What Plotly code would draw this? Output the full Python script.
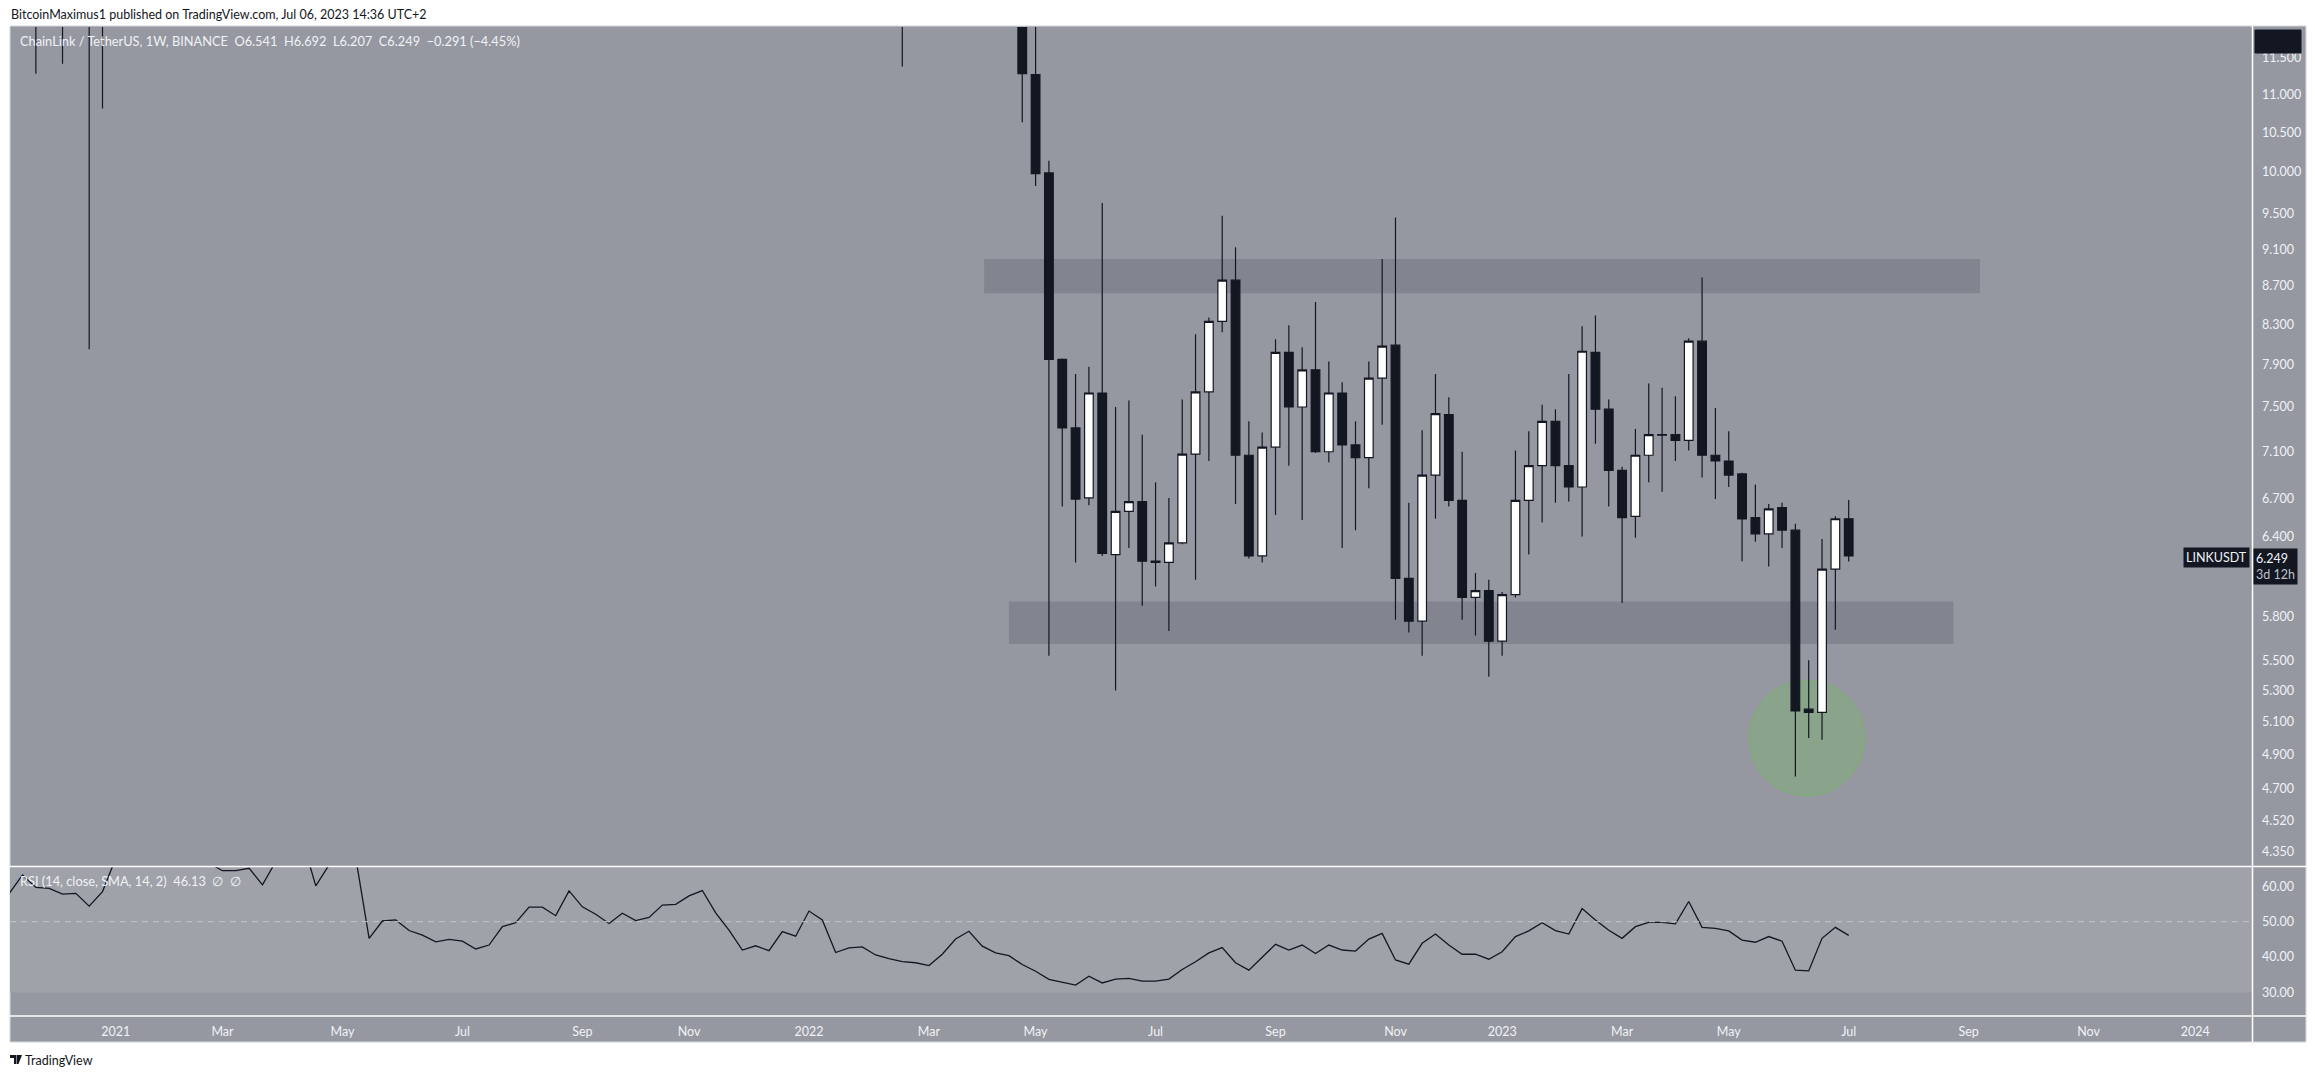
import math
import pandas as pd
import plotly.graph_objects as go

# ---------------- data ----------------
dates = pd.date_range("2020-11-09", periods=139, freq="7D")

open_ = [12.3, 12.6, 13.9, 13.2, 13.9, 12.6, 13.1, 12.3, 13.6, 19.6,
         21.0, 22.0, 21.5, 26.5, 29.0, 31.0, 24.8, 29.0, 29.4, 28.6,
         27.5, 31.8, 33.0, 40.0, 33.0, 40.0, 46.5, 37.4, 24.5, 29.0,
         25.9, 23.4, 20.9, 19.2, 19.5, 18.6, 16.1, 17.0, 21.3, 22.9,
         27.6, 27.9, 26.6, 33.3, 29.3, 27.6, 24.6, 26.8, 25.4, 26.5,
         30.0, 30.2, 33.7, 35.4, 28.0, 24.3, 20.5, 21.2, 20.0, 22.8,
         21.3, 26.3, 23.8, 16.5, 17.2, 17.5, 16.0, 14.4, 14.2, 14.0,
         13.6, 15.1, 16.9, 16.9, 14.6, 14.0, 13.70, 11.27, 9.99, 7.95,
         7.31, 6.71, 7.63, 6.26, 6.60, 6.68, 6.21, 6.20, 6.35, 7.08,
         7.64, 8.33, 8.76, 7.07, 6.25, 7.14, 8.02, 7.50, 7.85, 7.10,
         7.63, 7.16, 7.05, 7.77, 8.09, 6.08, 5.77, 6.90, 7.43, 6.69,
         5.94, 5.99, 5.63, 5.96, 6.69, 6.98, 7.37, 6.98, 6.80, 8.02,
         7.48, 6.94, 6.56, 7.07, 7.25, 7.25, 7.20, 8.13, 7.07, 7.02,
         6.91, 6.55, 6.42, 6.63, 6.45, 5.18, 5.16, 6.15, 6.541]

high = [13.6, 14.6, 15.4, 15.0, 14.0, 14.6, 13.4, 14.2, 22.0, 21.9,
        25.0, 24.0, 27.5, 32.0, 36.9, 31.6, 32.5, 32.8, 32.0, 30.0,
        32.7, 36.0, 44.3, 40.5, 41.0, 52.9, 51.8, 39.5, 33.7, 34.0,
        27.0, 28.0, 21.0, 21.8, 21.5, 19.5, 18.2, 22.9, 24.3, 29.0,
        30.0, 30.6, 35.2, 35.0, 31.5, 29.0, 29.0, 28.0, 28.0, 31.7,
        32.0, 35.0, 38.0, 36.0, 29.5, 28.0, 22.5, 21.5, 24.0, 24.8,
        28.9, 27.0, 24.0, 18.6, 18.8, 19.8, 16.3, 15.1, 16.2, 14.7,
        15.5, 17.5, 18.8, 17.2, 15.9, 15.6, 14.20, 12.10, 10.14, 7.96,
        7.81, 7.88, 9.63, 7.50, 7.56, 7.25, 6.84, 6.71, 7.57, 8.20,
        8.37, 9.48, 9.12, 7.37, 7.27, 8.15, 8.29, 8.07, 8.53, 7.93,
        7.73, 7.37, 7.93, 8.99, 9.46, 6.67, 7.29, 7.81, 7.59, 7.10,
        6.12, 6.07, 5.98, 7.11, 7.28, 7.52, 7.48, 7.81, 8.28, 8.39,
        7.57, 6.97, 7.30, 7.72, 7.68, 7.60, 8.16, 8.79, 7.49, 7.28,
        6.92, 6.82, 6.66, 6.67, 6.50, 5.50, 6.38, 6.56, 6.692]

low = [12.1, 12.3, 11.28, 12.5, 11.42, 12.2, 8.05, 10.81, 12.8, 16.0,
       19.0, 19.5, 20.9, 24.8, 26.0, 20.6, 24.5, 27.7, 27.0, 24.0,
       26.0, 30.0, 31.5, 27.0, 31.0, 38.0, 32.0, 15.0, 21.8, 24.7,
       20.1, 19.0, 15.0, 17.6, 17.3, 14.6, 13.5, 16.5, 19.2, 21.8,
       24.0, 25.0, 25.6, 23.5, 26.5, 20.9, 22.0, 24.5, 23.5, 25.5,
       27.0, 29.0, 30.0, 25.5, 23.0, 17.5, 18.0, 16.3, 19.7, 19.5,
       20.5, 22.8, 14.9, 14.4, 15.9, 15.8, 13.4, 11.38, 13.6, 12.3,
       12.9, 14.4, 16.1, 13.9, 13.6, 13.0, 10.63, 9.83, 5.53, 6.64,
       6.20, 6.65, 6.25, 5.30, 6.31, 5.88, 6.02, 5.70, 6.34, 6.07,
       7.02, 8.22, 6.66, 6.23, 6.20, 6.57, 6.98, 6.53, 7.09, 7.01,
       6.31, 6.45, 6.79, 7.34, 5.78, 5.69, 5.53, 6.54, 6.64, 5.78,
       5.67, 5.39, 5.53, 5.94, 6.26, 6.51, 6.67, 6.68, 6.40, 7.17,
       6.64, 5.90, 6.39, 6.84, 6.76, 7.02, 7.11, 6.88, 6.70, 6.80,
       6.21, 6.36, 6.17, 6.31, 4.77, 5.00, 4.99, 5.71, 6.207]

close = [12.6, 13.9, 13.2, 13.9, 12.6, 13.1, 12.3, 13.6, 19.6, 21.0,
         22.0, 21.5, 26.5, 29.0, 31.0, 24.8, 29.0, 29.4, 28.6, 27.5,
         31.8, 33.0, 40.0, 33.0, 40.0, 46.5, 37.4, 24.5, 29.0, 25.9,
         23.4, 20.9, 19.2, 19.5, 18.6, 16.1, 17.0, 21.3, 22.9, 27.6,
         27.9, 26.6, 33.3, 29.3, 27.6, 24.6, 26.8, 25.4, 26.5, 30.0,
         30.2, 33.7, 35.4, 28.0, 24.3, 20.5, 21.2, 20.0, 22.8, 21.3,
         26.3, 23.8, 16.5, 17.2, 17.5, 16.0, 14.4, 14.2, 14.0, 13.6,
         15.1, 16.9, 16.9, 14.6, 14.0, 13.7, 11.28, 9.98, 7.95, 7.31,
         6.70, 7.63, 6.27, 6.60, 6.68, 6.21, 6.20, 6.35, 7.08, 7.64,
         8.33, 8.76, 7.07, 6.25, 7.14, 8.02, 7.50, 7.85, 7.10, 7.63,
         7.16, 7.05, 7.77, 8.08, 6.08, 5.77, 6.90, 7.44, 6.69, 5.94,
         5.99, 5.63, 5.96, 6.69, 6.98, 7.37, 6.98, 6.80, 8.03, 7.48,
         6.94, 6.55, 7.07, 7.25, 7.245, 7.20, 8.13, 7.07, 7.02, 6.90,
         6.54, 6.42, 6.62, 6.45, 5.17, 5.16, 6.15, 6.541, 6.249]

rsi = [58.0, 63.2, 59.7, 59.4, 57.8, 58.0, 54.4, 58.5, 68.0, 72.0,
       74.0, 72.0, 75.0, 78.0, 80.0, 66.5, 64.4, 64.4, 65.1, 60.4,
       67.0, 69.0, 73.0, 60.1, 66.0, 72.0, 68.0, 45.3, 50.2, 50.5,
       47.5, 46.2, 44.3, 45.0, 44.5, 42.3, 43.4, 48.6, 49.7, 54.1,
       54.1, 51.7, 58.7, 54.2, 52.1, 49.5, 52.4, 50.3, 51.2, 54.7,
       54.9, 57.3, 58.8, 52.5, 47.6, 42.0, 43.2, 41.8, 47.2, 45.9,
       53.0, 50.5, 41.3, 42.6, 42.9, 40.6, 39.6, 38.7, 38.4, 37.6,
       40.8, 45.1, 47.3, 43.1, 41.2, 40.4, 37.9, 36.0, 33.7, 32.9,
       32.1, 34.6, 32.7, 33.8, 34.0, 33.2, 33.2, 33.8, 36.5, 38.7,
       41.2, 42.7, 38.4, 36.3, 40.1, 43.6, 42.0, 43.4, 41.0, 43.4,
       42.0, 41.7, 45.1, 46.7, 39.2, 38.0, 43.9, 46.5, 43.4, 40.8,
       40.8, 39.4, 41.5, 45.8, 47.4, 49.7, 47.5, 46.5, 53.7, 50.5,
       47.6, 45.3, 48.6, 49.8, 49.8, 49.4, 55.7, 48.4, 48.1, 47.4,
       44.8, 44.2, 45.8, 44.5, 36.3, 36.1, 45.3, 48.4, 46.13]

price_ticks = [4.35, 4.52, 4.7, 4.9, 5.1, 5.3, 5.5, 5.8, 6.4, 6.7, 7.1,
               7.5, 7.9, 8.3, 8.7, 9.1, 9.5, 10.0, 10.5, 11.0, 11.5]
rsi_ticks = [30, 40, 50, 60]
time_tick_dates = ["2021-01-04", "2021-03-01", "2021-05-03", "2021-07-05", "2021-09-06",
                   "2021-11-01", "2022-01-03", "2022-03-07", "2022-05-02", "2022-07-04",
                   "2022-09-05", "2022-11-07", "2023-01-02", "2023-03-06", "2023-05-01",
                   "2023-07-03", "2023-09-04", "2023-11-06", "2024-01-01"]
time_tick_text = ["2021", "Mar", "May", "Jul", "Sep", "Nov", "2022", "Mar", "May", "Jul",
                  "Sep", "Nov", "2023", "Mar", "May", "Jul", "Sep", "Nov", "2024"]

# horizontal zones (start, end, low price, high price)
zone_start = ["2022-04-05", "2022-04-18"]
zone_end = ["2023-09-10", "2023-08-27"]
zone_low = [8.62, 5.61]
zone_high = [8.99, 5.91]

# ---------------- styling ----------------
BG = "rgb(149,152,161)"
ZONE = "rgb(130,133,143)"
BAND = "rgb(159,162,169)"
DARK = "#131722"
LIGHT = "rgb(240,242,246)"
FONT = "Lato"

W, H = 2315, 1079
L, R, T, B = 10, 63, 27, 63
PW, PH = W - L - R, H - T - B


def px(x):
    return (x - L) / PW


def py(y):
    return (H - B - y) / PH


fig = go.Figure()
fig.add_trace(go.Candlestick(
    x=dates, open=open_, high=high, low=low, close=close,
    xaxis="x", yaxis="y", whiskerwidth=0, showlegend=False, hoverinfo="skip",
    increasing=dict(line=dict(color=DARK, width=1.2), fillcolor="#ffffff"),
    decreasing=dict(line=dict(color=DARK, width=1.2), fillcolor=DARK),
))
fig.add_trace(go.Scatter(
    x=dates, y=rsi, xaxis="x2", yaxis="y2", mode="lines",
    line=dict(color=DARK, width=1.3), showlegend=False, hoverinfo="skip",
))

shapes = []
# grey chart background
shapes.append(dict(type="rect", xref="paper", yref="paper", layer="below",
                   x0=px(10), x1=px(2306), y0=py(1042), y1=py(26),
                   fillcolor=BG, line=dict(color="rgb(214,216,222)", width=1)))
# green highlight circle (drawing, placed in pixels)
cx, cy, cr = 1807, 738, 58
shapes.append(dict(type="circle", xref="paper", yref="paper", layer="below",
                   x0=px(cx - cr), x1=px(cx + cr), y0=py(cy + cr), y1=py(cy - cr),
                   fillcolor="rgb(137,164,138)", line=dict(color="rgba(120,175,110,0.8)", width=1)))
# RSI band
shapes.append(dict(type="rect", xref="paper", yref="y2", layer="below",
                   x0=0, x1=1, y0=30, y1=70, fillcolor=BAND, line=dict(width=0)))
# zones
for xs, xe, lo, hi in zip(zone_start, zone_end, zone_low, zone_high):
    shapes.append(dict(type="rect", xref="x", yref="y", layer="below",
                       x0=xs, x1=xe, y0=lo, y1=hi, fillcolor=ZONE, line=dict(width=0)))
# RSI 50 dashed line
shapes.append(dict(type="line", xref="paper", yref="y2", x0=0, x1=1, y0=50, y1=50,
                   line=dict(color="rgb(196,198,204)", width=1, dash="6px,5px")))
# separators
shapes.append(dict(type="line", xref="paper", yref="paper", x0=px(10), x1=px(2306),
                   y0=py(866.5), y1=py(866.5), line=dict(color="#ffffff", width=1.5)))
shapes.append(dict(type="line", xref="paper", yref="paper", x0=px(10), x1=px(2306),
                   y0=py(1016), y1=py(1016), line=dict(color="#ffffff", width=1.5)))
shapes.append(dict(type="line", xref="paper", yref="paper", x0=px(2252.5), x1=px(2252.5),
                   y0=py(1042), y1=py(26), line=dict(color="#ffffff", width=1.5)))
# dark button at top of price scale
shapes.append(dict(type="rect", xref="paper", yref="paper", layer="above",
                   x0=px(2255), x1=px(2301), y0=py(53), y1=py(30),
                   fillcolor=DARK, line=dict(color=DARK, width=1)))
# TradingView logo mark
shapes.append(dict(type="path", xref="paper", yref="paper", layer="above",
                   path=f"M {px(10)},{py(1055)} L {px(16)},{py(1055)} L {px(16)},{py(1064)} "
                        f"L {px(14)},{py(1064)} L {px(14)},{py(1058)} L {px(10)},{py(1058)} Z",
                   fillcolor=DARK, line=dict(width=0)))
shapes.append(dict(type="path", xref="paper", yref="paper", layer="above",
                   path=f"M {px(16.5)},{py(1055)} L {px(22)},{py(1055)} L {px(18.5)},{py(1064)} "
                        f"L {px(16.5)},{py(1064)} Z",
                   fillcolor=DARK, line=dict(width=0)))

NB = "\u00a0"
annotations = [
    dict(xref="paper", yref="paper", x=px(9), y=py(14), xanchor="left", yanchor="middle",
         text="BitcoinMaximus1 published on TradingView.com, Jul 06, 2023 14:36 UTC+2",
         showarrow=False, font=dict(family=FONT, size=12.5, color=DARK)),
    dict(xref="paper", yref="paper", x=px(18), y=py(41), xanchor="left", yanchor="middle",
         text=f"ChainLink / TetherUS, 1W, BINANCE{NB}{NB}O6.541{NB}{NB}H6.692{NB}{NB}L6.207{NB}{NB}C6.249{NB}{NB}\u22120.291 (\u22124.45%)",
         showarrow=False, font=dict(family=FONT, size=12.8, color=LIGHT)),
    dict(xref="paper", yref="paper", x=px(18), y=py(881), xanchor="left", yanchor="middle",
         text=f"RSI (14, close, SMA, 14, 2){NB}{NB}46.13{NB}{NB}\u2205{NB}{NB}\u2205",
         showarrow=False, font=dict(family=FONT, size=12.8, color=LIGHT)),
    dict(xref="paper", yref="paper", x=px(2250), y=py(557), xanchor="right", yanchor="middle",
         text="LINKUSDT", showarrow=False, bgcolor=DARK, borderpad=2,
         font=dict(family=FONT, size=12.5, color=LIGHT)),
    dict(xref="paper", yref="paper", x=px(2253), y=py(548), xanchor="left", yanchor="top",
         text="6.249<br><span style='color:rgb(190,193,200)'>3d 12h</span>", align="left",
         showarrow=False, bgcolor=DARK, borderpad=2,
         font=dict(family=FONT, size=12.5, color=LIGHT)),
    dict(xref="paper", yref="paper", x=px(23), y=py(1060), xanchor="left", yanchor="middle",
         text="TradingView", showarrow=False, font=dict(family=FONT, size=12.5, color=DARK)),
]

x_start = dates[0] + pd.Timedelta(hours=10)
x_end = pd.Timestamp("2024-01-30 19:00")

fig.update_layout(
    width=W, height=H, autosize=False,
    margin=dict(l=L, r=R, t=T, b=B),
    paper_bgcolor="#ffffff", plot_bgcolor="rgba(0,0,0,0)",
    showlegend=False, boxgap=0.35, boxgroupgap=0,
    shapes=shapes, annotations=annotations,
    xaxis=dict(domain=[0, 1], anchor="y", type="date", range=[x_start, x_end],
               showticklabels=False, showgrid=False, zeroline=False, showline=False,
               rangeslider=dict(visible=False)),
    xaxis2=dict(domain=[0, 1], anchor="y2", type="date", matches="x",
                tickvals=time_tick_dates, ticktext=time_tick_text, ticks="",
                showgrid=False, zeroline=False, showline=False, ticklabelstandoff=6,
                tickfont=dict(family=FONT, size=12.5, color=LIGHT)),
    yaxis=dict(domain=[py(866), 1], anchor="x", type="log", side="right",
               range=[math.log10(4.275), math.log10(11.945)],
               tickvals=price_ticks, ticktext=[f"{v:.3f}" for v in price_ticks],
               ticks="", showgrid=False, zeroline=False, showline=False, ticklabelstandoff=9,
               tickfont=dict(family=FONT, size=12.5, color=LIGHT)),
    yaxis2=dict(domain=[0, py(867)], anchor="x2", side="right", range=[23.36, 65.45],
                tickvals=rsi_ticks, ticktext=[f"{v:.2f}" for v in rsi_ticks],
                ticks="", showgrid=False, zeroline=False, showline=False, ticklabelstandoff=9,
                tickfont=dict(family=FONT, size=12.5, color=LIGHT)),
)

fig.write_html("out.html", config={"displayModeBar": False},
               post_script="document.body.style.margin='0px';document.body.style.overflow='hidden';")
